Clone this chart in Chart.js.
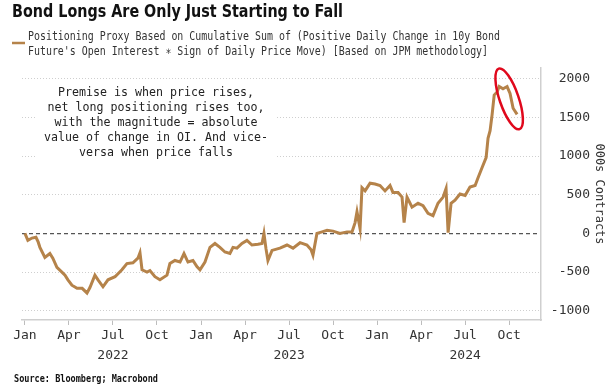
<!DOCTYPE html>
<html>
<head>
<meta charset="utf-8">
<script src="https://cdn.jsdelivr.net/npm/chart.js@4"></script>
<style>
  html, body { margin: 0; padding: 0; background: #fff; }
  #wrap { width: 614px; height: 389px; position: relative; }
</style>
</head>
<body>
<div id="wrap"><canvas id="bondChart"></canvas></div>
<script>
// months since Jan 2022 (0 = Jan 2022)
const months = [0, 0.2, 0.48, 0.75, 0.9, 1.02, 1.36, 1.7, 1.9, 2.18,
    2.52, 2.73, 2.93, 3.2, 3.55, 3.9, 4.23, 4.43, 4.77, 4.98,
    5.32, 5.66, 6.14, 6.61, 6.95, 7.36, 7.7, 7.84, 7.98, 8.32,
    8.52, 8.86, 9.2, 9.68, 9.88, 10.22, 10.57, 10.84, 11.11, 11.45,
    11.72, 11.93, 12.27, 12.61, 12.95, 13.29, 13.63, 13.97, 14.18, 14.45,
    14.79, 15.13, 15.47, 15.88, 16.16, 16.29, 16.43, 16.56, 16.84, 17.38,
    17.86, 18.27, 18.75, 19.22, 19.5, 19.63, 19.9, 20.25, 20.59, 21.0,
    21.47, 21.95, 22.29, 22.5, 22.63, 22.84, 22.97, 23.18, 23.52, 23.86,
    24.2, 24.54, 24.88, 25.08, 25.43, 25.7, 25.84, 26.04, 26.38, 26.79,
    27.13, 27.47, 27.81, 28.15, 28.5, 28.7, 28.84, 29.04, 29.31, 29.65,
    30.0, 30.33, 30.68, 30.88, 31.15, 31.43, 31.56, 31.7, 31.84, 31.98,
    32.18, 32.32, 32.58, 32.86, 33.06, 33.27, 33.54];

// positioning proxy, 000s contracts
const contracts = [0, -90, -60, -50, -110, -180, -310, -260, -320, -440,
    -500, -540, -600, -670, -710, -710, -770, -700, -540, -600,
    -690, -600, -560, -470, -390, -380, -320, -250, -470, -500,
    -480, -560, -600, -540, -390, -350, -370, -260, -370, -350,
    -430, -470, -370, -180, -130, -180, -240, -260, -180, -190,
    -130, -90, -150, -140, -130, 0, -200, -350, -220, -190,
    -150, -190, -120, -150, -210, -280, 0, 20, 40, 30,
    0, 20, 20, 140, 280, 60, 590, 550, 650, 640,
    620, 550, 620, 530, 530, 470, 140, 470, 340, 390,
    360, 260, 230, 390, 470, 580, 10, 390, 430, 510,
    490, 600, 620, 720, 850, 980, 1230, 1330, 1540, 1790,
    1830, 1900, 1870, 1900, 1810, 1620, 1540];

const xTicks = [0, 3, 6, 9, 12, 15, 18, 21, 24, 27, 30, 33];
const monthNames = ['Jan', 'Apr', 'Jul', 'Oct'];
const years = ['2022', '2023', '2024'];
const yTicks = [-1000, -500, 0, 500, 1000, 1500, 2000];

const titleText = 'Bond Longs Are Only Just Starting to Fall';
const legendLines = [
    'Positioning Proxy Based on Cumulative Sum of (Positive Daily Change in 10y Bond',
    "Future's Open Interest \u2217 Sign of Daily Price Move) [Based on JPM methodology]"
];
const noteLines = [
    'Premise is when price rises,',
    'net long positioning rises too,',
    'with the magnitude = absolute',
    'value of change in OI. And vice-',
    'versa when price falls'
];
const sourceText = 'Source: Bloomberg; Macrobond';

const lineColor = '#b5834a';
const mono = "'DejaVu Sans Mono', monospace";

// draw lines of text squeezed horizontally so line refIdx is refWidth wide
function drawSqueezed(ctx, lines, o) {
    ctx.font = o.font;
    const w = ctx.measureText(lines[o.refIdx || 0]).width;
    const sx = o.refWidth / w;
    ctx.fillStyle = o.color || '#222';
    ctx.textAlign = o.align || 'left';
    ctx.textBaseline = 'middle';
    lines.forEach((t, i) => {
        ctx.save();
        ctx.translate(o.x, o.y + i * (o.lh || 0));
        ctx.scale(sx, 1);
        ctx.fillText(t, 0, 0);
        ctx.restore();
    });
}

const decorPlugin = {
    id: 'decor',
    afterDraw(chart) {
        const ctx = chart.ctx;
        const xs = chart.scales.x, ys = chart.scales.y;
        ctx.save();

        // title
        drawSqueezed(ctx, [titleText], {
            font: "bold 17px 'DejaVu Sans', sans-serif", x: 12, y: 13,
            refWidth: 331, color: '#111'
        });

        // legend marker + text
        ctx.strokeStyle = lineColor;
        ctx.lineWidth = 2.5;
        ctx.beginPath();
        ctx.moveTo(12, 43);
        ctx.lineTo(25, 43);
        ctx.stroke();
        drawSqueezed(ctx, legendLines, {
            font: '12px ' + mono, x: 28, y: 37, lh: 15, refWidth: 472, color: '#333'
        });

        // note box
        ctx.fillStyle = '#fff';
        ctx.fillRect(35, 83, 240, 78);
        drawSqueezed(ctx, noteLines, {
            font: '13px ' + mono, x: 156, y: 93, lh: 14.8, refIdx: 1,
            refWidth: 217, align: 'center', color: '#222'
        });

        // red ellipse around the latest drop
        const cx = xs.getPixelForValue(33.0);
        const cy = ys.getPixelForValue(1740);
        ctx.strokeStyle = '#e0081c';
        ctx.lineWidth = 2.5;
        ctx.beginPath();
        ctx.ellipse(cx, cy, 32, 9.5, 1.24, 0, Math.PI * 2);
        ctx.stroke();

        // source
        drawSqueezed(ctx, [sourceText], {
            font: 'bold 10px ' + mono, x: 14, y: 379, refWidth: 144, color: '#111'
        });
        ctx.restore();
    }
};

const ctx = document.getElementById('bondChart').getContext('2d');
const chart = new Chart(ctx, {
    type: 'line',
    data: {
        datasets: [{
            label: legendLines.join(' '),
            data: months.map((m, i) => ({ x: m, y: contracts[i] })),
            borderColor: lineColor,
            borderWidth: 3,
            pointRadius: 0,
            tension: 0,
            fill: false
        }]
    },
    options: {
        responsive: true,
        maintainAspectRatio: false,
        animation: false,
        // right padding leaves room for the axis title; y labels end at the scale's right edge
        layout: { padding: { top: 68, left: 22, right: 24, bottom: 0 } },
        plugins: {
            legend: { display: false },
            title: { display: false },
            tooltip: { enabled: false }
        },
        scales: {
            x: {
                type: 'linear',
                min: -0.2,
                max: 35.17,
                afterBuildTicks: s => { s.ticks = xTicks.map(v => ({ value: v })); },
                afterFit: s => { s.height = 69; },
                grid: {
                    drawOnChartArea: false,
                    drawTicks: true,
                    tickLength: 5,
                    color: '#bdbdbd'
                },
                border: { display: true, color: '#cfcfcf', width: 1.5 },
                ticks: {
                    autoSkip: false,
                    maxRotation: 0,
                    padding: 1,
                    color: '#333',
                    font: { family: mono, size: 13, lineHeight: 1.5 },
                    callback: v => {
                        const q = Math.round(v / 3);
                        const name = monthNames[q % 4];
                        return q % 4 === 2 ? [name, years[Math.floor(q / 4)]] : name;
                    }
                }
            },
            y: {
                position: 'right',
                min: -1120,
                max: 2140,
                afterBuildTicks: s => { s.ticks = yTicks.map(v => ({ value: v })); },
                afterFit: s => { s.width = 49; },
                grid: {
                    drawTicks: false,
                    color: c => (c.tick && c.tick.value === 0) ? '#555' : '#cfcfcf',
                    lineWidth: c => (c.tick && c.tick.value === 0) ? 1.3 : 1
                },
                border: {
                    display: true,
                    color: '#cfcfcf',
                    width: 1.5,
                    dash: c => c.type !== 'tick' ? [] : (c.tick.value === 0 ? [4, 3] : [1, 2])
                },
                ticks: {
                    padding: 10,
                    crossAlign: 'far',
                    color: '#333',
                    font: { family: mono, size: 13 },
                    callback: v => String(v)
                },
                title: {
                    display: true,
                    text: '000s Contracts',
                    color: '#333',
                    font: { family: mono, size: 12 },
                    padding: { top: -16, bottom: 0 }
                }
            }
        }
    },
    plugins: [decorPlugin]
});
</script>
</body>
</html>
